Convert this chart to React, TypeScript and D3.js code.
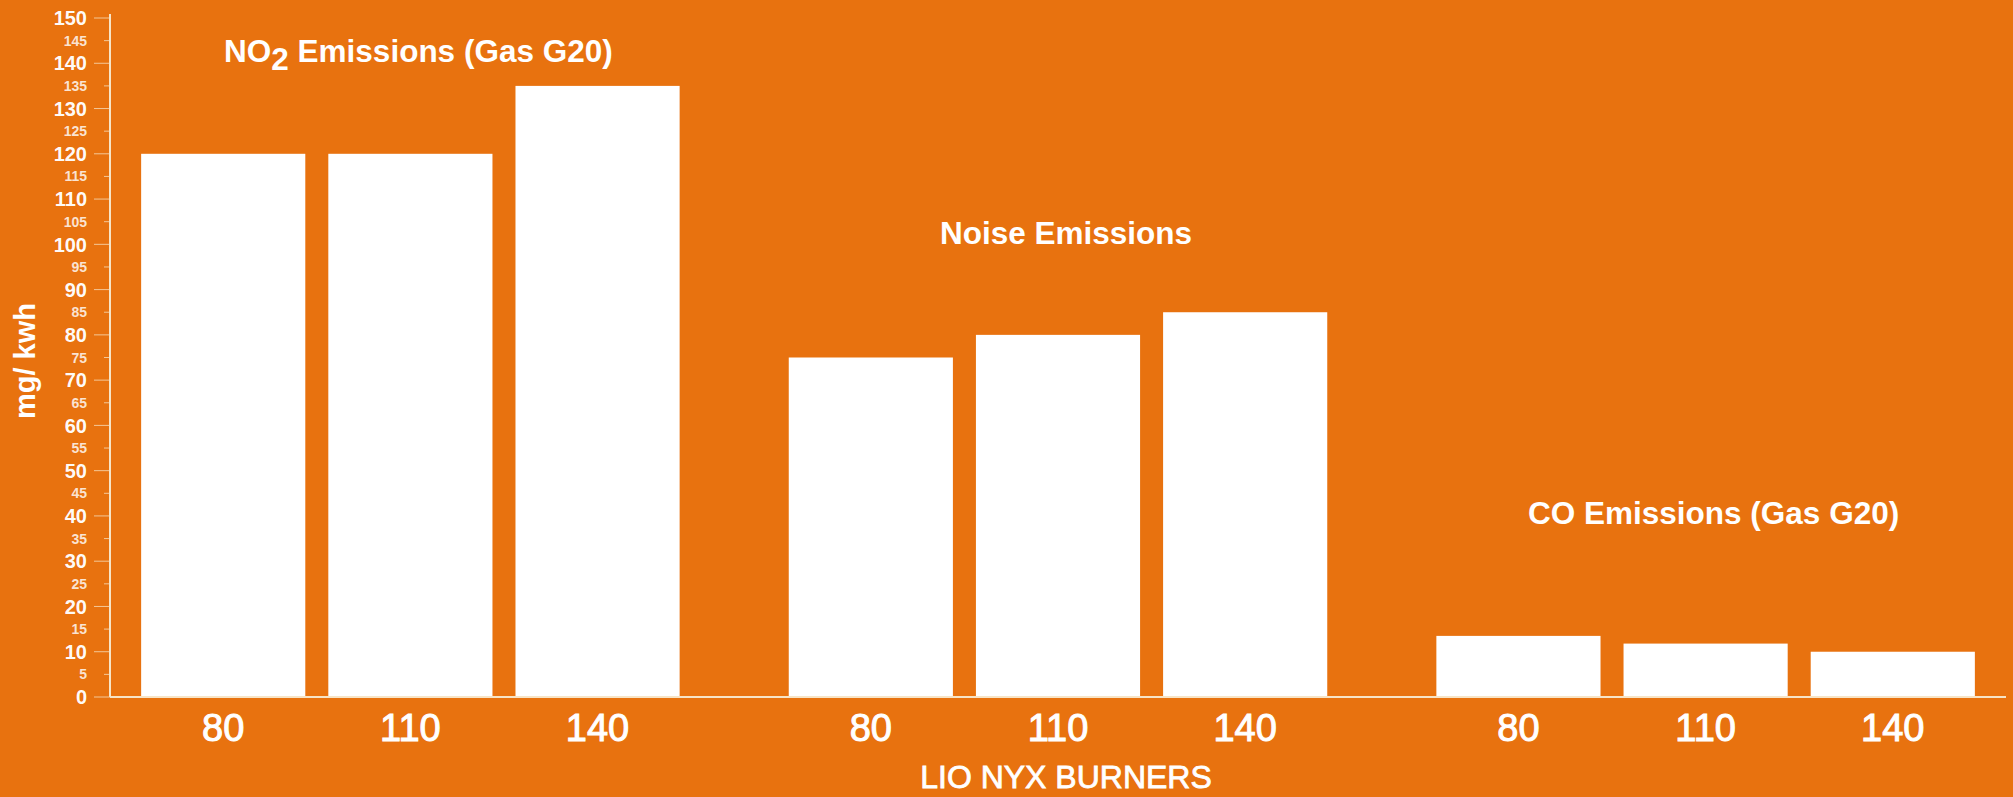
import React, { useEffect } from "react";
import * as d3 from "d3";

// ---- data ----
const groupTitles = ["NO2 Emissions (Gas G20)", "Noise Emissions", "CO Emissions (Gas G20)"];
const burners = ["80", "110", "140"];
const no2Values = [120, 120, 135];
const noiseValues = [75, 80, 85];
const coValues = [13.5, 11.8, 10];
const yTickValues = [0, 5, 10, 15, 20, 25, 30, 35, 40, 45, 50, 55, 60, 65, 70, 75, 80, 85, 90, 95, 100, 105, 110, 115, 120, 125, 130, 135, 140, 145, 150];
const yAxisTitle = "mg/ kwh";
const xAxisTitle = "LIO NYX BURNERS";

// title anchor levels (in value units) for the group labels
const titleLevels = [140.3, 100, 38.2];

const W = 2013;
const H = 797;
const BG = "#E8720F";
const FONT = "'Liberation Sans', Arial, Helvetica, sans-serif";
const AXIS = "#F7E4C6";

export default function App() {
  useEffect(() => {
    document.body.style.margin = "0";
    document.body.style.background = BG;
  }, []);

  const seriesList = [no2Values, noiseValues, coValues];

  const y = d3.scaleLinear().domain([0, 150]).range([697, 18]);
  const xGroup = d3
    .scaleBand<number>()
    .domain([0, 1, 2])
    .range([112, 2004])
    .paddingInner(0.1685)
    .paddingOuter(0.045);
  const xInner = d3
    .scaleBand<string>()
    .domain(burners)
    .range([0, xGroup.bandwidth()])
    .paddingInner(0.123)
    .paddingOuter(0);

  const axisX = 110;

  return (
    <svg width={W} height={H} style={{ display: "block", background: BG }} fontFamily={FONT}>
      <rect x={0} y={0} width={W} height={H} fill={BG} />

      {/* bars */}
      {seriesList.map((vals, gi) =>
        vals.map((v, bi) => (
          <rect
            key={`b${gi}-${bi}`}
            x={(xGroup(gi) as number) + (xInner(burners[bi]) as number)}
            y={y(v)}
            width={xInner.bandwidth()}
            height={y(0) - y(v)}
            fill="#FFFFFF"
          />
        ))
      )}

      {/* y axis ticks and labels */}
      {yTickValues.map((t) => {
        const major = t % 10 === 0;
        return (
          <g key={`t${t}`} transform={`translate(0,${y(t)})`}>
            <line
              x1={major ? axisX - 16 : axisX - 6}
              x2={axisX}
              y1={0}
              y2={0}
              stroke={AXIS}
              strokeOpacity={0.75}
              strokeWidth={1}
            />
            <text
              x={87}
              y={0}
              dy="0.36em"
              textAnchor="end"
              fontWeight="bold"
              fontSize={major ? 20 : 14}
              fill="#FFFFFF"
              fillOpacity={major ? 0.97 : 0.82}
            >
              {t}
            </text>
          </g>
        );
      })}

      {/* axis lines */}
      <line x1={axisX} x2={axisX} y1={y(150) - 4} y2={y(0)} stroke={AXIS} strokeWidth={2} />
      <line x1={axisX} x2={2006} y1={y(0)} y2={y(0)} stroke={AXIS} strokeWidth={2} />

      {/* x tick labels */}
      {seriesList.map((vals, gi) =>
        burners.map((b) => (
          <text
            key={`xl${gi}-${b}`}
            x={(xGroup(gi) as number) + (xInner(b) as number) + xInner.bandwidth() / 2}
            y={741}
            textAnchor="middle"
            fontSize={38}
            fill="#FFFFFF"
            stroke="#FFFFFF"
            strokeWidth={1}
          >
            {b}
          </text>
        ))
      )}

      {/* group titles */}
      {groupTitles.map((title, gi) => {
        const cx = (xGroup(gi) as number) + xGroup.bandwidth() / 2 + 8;
        const ty = y(titleLevels[gi]);
        if (title.startsWith("NO2")) {
          return (
            <text key={`gt${gi}`} x={cx} y={ty} textAnchor="middle" fontSize={31.5} fontWeight="bold" fill="#FFFFFF">
              <tspan>NO</tspan>
              <tspan dy={8}>2</tspan>
              <tspan dy={-8}>{title.slice(3)}</tspan>
            </text>
          );
        }
        return (
          <text key={`gt${gi}`} x={cx} y={ty} textAnchor="middle" fontSize={31.5} fontWeight="bold" fill="#FFFFFF">
            {title}
          </text>
        );
      })}

      {/* axis titles */}
      <text
        transform={`translate(35,361) rotate(-90)`}
        textAnchor="middle"
        fontSize={29}
        fontWeight="bold"
        fill="#FFFFFF"
      >
        {yAxisTitle}
      </text>
      <text x={1066} y={788} textAnchor="middle" fontSize={32} fill="#FFFFFF" stroke="#FFFFFF" strokeWidth={0.8}>
        {xAxisTitle}
      </text>
    </svg>
  );
}
